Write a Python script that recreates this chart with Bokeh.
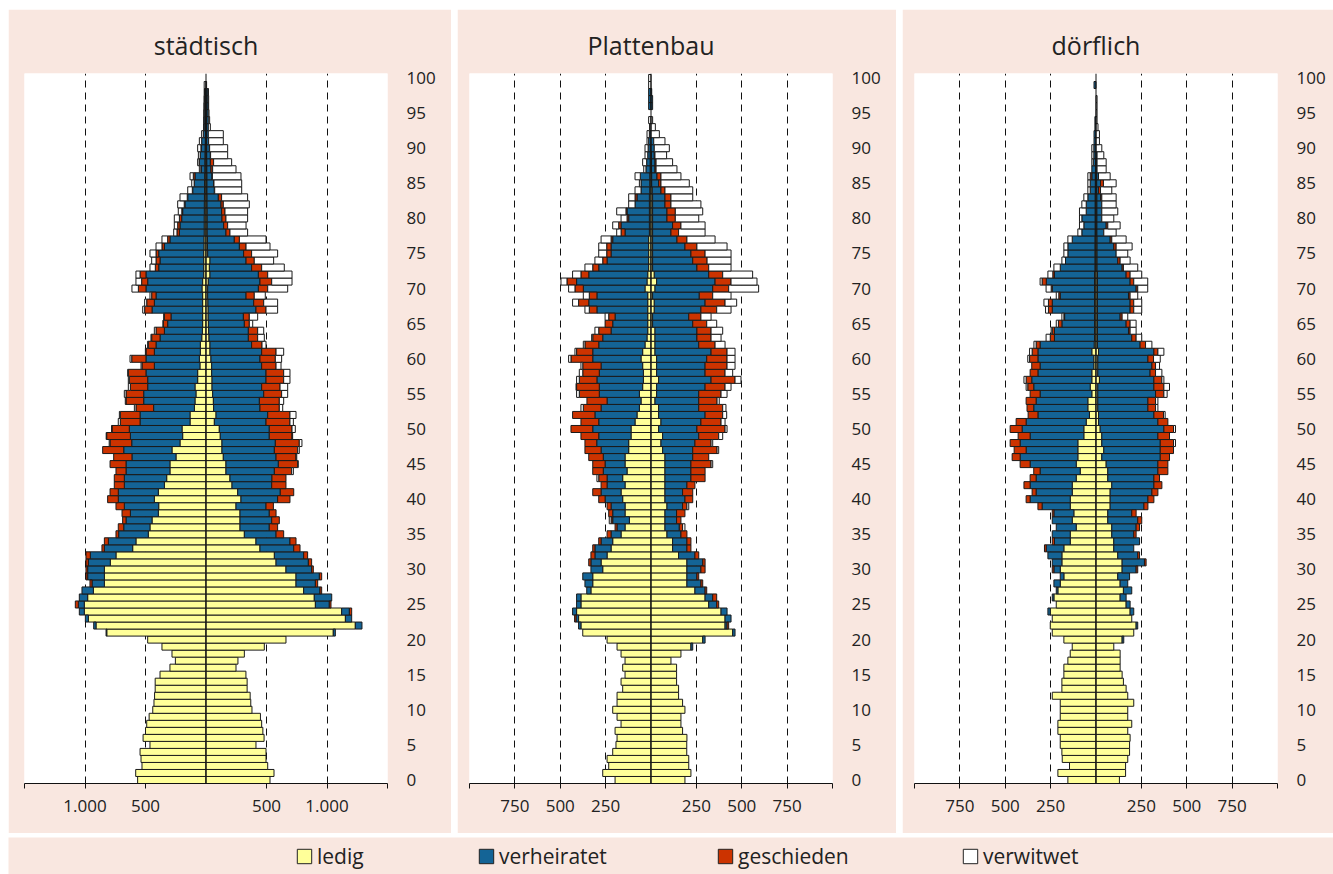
import numpy as np
from bokeh.plotting import figure
from bokeh.models import FixedTicker, Span, Legend, LegendItem, ColumnDataSource, Range1d, Spacer
from bokeh.layouts import row, column
from bokeh.embed import file_html
from bokeh.resources import INLINE

ages = list(range(101))
kategorien = ["ledig", "verheiratet", "geschieden", "verwitwet"]
farben = ["#FFFF99", "#146496", "#CC3300", "#FFFFFF"]

# ---------------- städtisch, links ----------------
stadt_m_ledig = [565, 581, 529, 537, 545, 463, 520, 500, 490, 470,
                 440, 430, 425, 420, 420, 380, 298, 253, 281, 364,
                 482, 820, 909, 972, 1006, 1006, 978, 931, 840, 840,
                 840, 791, 744, 606, 579, 477, 463, 446, 394, 391,
                 427, 394, 344, 325, 298, 298, 248, 281, 215, 193,
                 198, 132, 132, 96, 91, 83, 91, 69, 69, 50,
                 55, 47, 47, 35, 30, 28, 28, 28, 28, 28,
                 33, 28, 19, 19, 19, 19, 17, 17, 15, 15,
                 15, 14, 14, 13, 12, 12, 11, 10, 10, 9,
                 8, 6, 5, 4, 4, 3, 3, 2, 2, 0, 0]
stadt_m_verh = [0] * 20 + [
                 0, 6, 19, 25, 41, 49, 69, 94, 102, 138,
                 138, 181, 212, 234, 228, 245, 217, 215, 231, 284,
                 298, 331, 331, 350, 363, 363, 364, 399, 399, 432,
                 436, 413, 413, 337, 424, 432, 391, 413, 427, 377,
                 441, 380, 366, 345, 314, 289, 261, 418, 399, 385,
                 463, 454, 477, 372, 361, 372, 327, 281, 205, 200,
                 186, 179, 160, 138, 98, 84, 80, 31, 45, 38,
                 33, 30, 17, 12, 12, 12, 11, 11, 10, 0, 0]
stadt_m_gesch = [0] * 20 + [
                 0, 0, 0, 0, 0, 25, 0, 0, 17, 14,
                 14, 20, 36, 20, 33, 22, 45, 28, 69, 69,
                 88, 68, 83, 83, 83, 132, 151, 174, 179, 196,
                 143, 163, 163, 146, 146, 146, 143, 152, 146, 102,
                 118, 69, 64, 69, 69, 36, 55, 61, 63, 36,
                 63, 50, 49, 28, 33, 22, 20, 19, 20, 19,
                 19, 7, 6, 4, 3, 2, 14, 2, 2, 1,
                 1, 0, 0, 0, 0, 0, 0, 0, 0, 0, 0]
stadt_m_verw = [0] * 48 + [7, 4,
                 3, 17, 8, 13, 6, 14, 17, 8, 5, 8,
                 14, 5, 5, 6, 14, 2, 6, 16, 17, 14,
                 53, 47, 34, 44, 36, 50, 49, 47, 27, 28,
                 42, 29, 54, 60, 38, 20, 27, 12, 12, 15,
                 27, 19, 14, 4, 3, 3, 3, 3, 3, 15, 0]

# ---------------- städtisch, rechts ----------------
stadt_w_ledig = [529, 562, 510, 496, 496, 413, 480, 470, 460, 450,
                 380, 370, 365, 340, 340, 330, 248, 264, 317, 482,
                 661, 1052, 1234, 1152, 1121, 904, 895, 807, 744, 744,
                 661, 579, 565, 446, 413, 317, 281, 281, 281, 248,
                 289, 262, 215, 198, 165, 165, 143, 132, 132, 118,
                 110, 69, 83, 63, 61, 55, 50, 50, 47, 47,
                 41, 33, 33, 25, 22, 20, 18, 18, 16, 14,
                 14, 19, 33, 28, 33, 14, 12, 12, 10, 10,
                 10, 10, 9, 9, 8, 8, 8, 7, 7, 6,
                 6, 5, 5, 4, 4, 3, 3, 3, 2, 0, 0]
stadt_w_verh = [0] * 20 + [
                 0, 17, 55, 52, 64, 115, 144, 135, 160, 193,
                 212, 267, 242, 279, 281, 262, 242, 262, 242, 248,
                 303, 352, 328, 347, 400, 433, 436, 433, 441, 405,
                 413, 427, 427, 383, 380, 422, 410, 446, 449, 413,
                 405, 427, 344, 325, 328, 297, 291, 395, 378, 317,
                 419, 427, 400, 349, 298, 297, 264, 222, 155, 136,
                 122, 119, 115, 93, 61, 55, 42, 34, 29, 30,
                 22, 17, 14, 15, 15, 15, 14, 13, 14, 0, 0]
stadt_w_gesch = [0] * 20 + [
                 0, 0, 0, 0, 19, 14, 0, 14, 19, 19,
                 14, 27, 33, 52, 50, 63, 69, 63, 56, 61,
                 102, 111, 118, 116, 143, 160, 165, 193, 198, 188,
                 188, 198, 184, 160, 165, 148, 152, 146, 146, 119,
                 127, 119, 86, 77, 77, 41, 49, 83, 83, 68,
                 77, 97, 77, 83, 68, 66, 55, 42, 33, 33,
                 33, 28, 19, 27, 3, 3, 3, 14, 27, 2,
                 2, 0, 0, 0, 0, 0, 0, 0, 0, 0, 0]
stadt_w_verw = [0] * 44 + [14, 4, 6, 13, 22, 5,
                 27, 28, 50, 28, 36, 50, 63, 52, 52, 41,
                 52, 63, 33, 55, 50, 28, 69, 96, 115, 91,
                 165, 168, 201, 187, 160, 215, 198, 220, 146, 152,
                 179, 187, 215, 215, 223, 229, 236, 193, 149, 141,
                 149, 121, 124, 17, 11, 7, 5, 6, 4, 5, 0]

# ---------------- Plattenbau, links ----------------
platte_m_ledig = [198, 266, 233, 242, 211, 193, 187, 198, 165, 187,
                  211, 187, 187, 156, 165, 143, 156, 143, 165, 187,
                  242, 376, 386, 399, 410, 386, 386, 331, 321, 321,
                  266, 275, 242, 220, 211, 165, 143, 119, 143, 143,
                  156, 165, 143, 156, 132, 143, 143, 123, 123, 110,
                  110, 88, 77, 64, 55, 64, 46, 42, 42, 46,
                  55, 46, 33, 22, 18, 18, 18, 18, 18, 18,
                  33, 22, 18, 13, 13, 13, 13, 13, 9, 9,
                  9, 9, 9, 9, 7, 7, 7, 5, 5, 5,
                  4, 0, 0, 0, 0, 0, 0, 0, 0, 0, 0]
platte_m_verh = [0] * 20 + [
                  0, 0, 13, 14, 22, 24, 24, 23, 43, 55,
                  65, 56, 67, 89, 64, 55, 44, 92, 68, 77,
                  97, 110, 99, 86, 131, 110, 120, 152, 176, 178,
                  211, 200, 232, 211, 187, 221, 239, 256, 243, 229,
                  266, 275, 255, 244, 202, 193, 180, 280, 325, 280,
                  340, 388, 325, 275, 229, 207, 207, 198, 134, 156,
                  114, 123, 79, 68, 48, 48, 52, 23, 19, 13,
                  12, 13, 9, 0, 0, 0, 13, 13, 13, 0, 0]
platte_m_gesch = [0] * 20 + [
                  0, 0, 0, 8, 0, 0, 0, 0, 0, 0,
                  0, 12, 22, 12, 13, 22, 11, 9, 22, 22,
                  35, 46, 33, 46, 58, 68, 80, 89, 65, 98,
                  120, 98, 123, 98, 111, 110, 125, 97, 91, 101,
                  120, 89, 76, 55, 68, 42, 35, 42, 56, 42,
                  46, 53, 43, 33, 24, 24, 24, 9, 22, 13,
                  9, 6, 0, 11, 0, 0, 0, 0, 0, 0,
                  0, 0, 0, 0, 0, 0, 0, 0, 0, 0, 0]
platte_m_verw = [0] * 30 + [
                  0, 0, 0, 0, 0, 0, 0, 10, 0, 0,
                  0, 0, 0, 10, 0, 0, 0, 0, 0, 0,
                  0, 0, 0, 13, 0, 15, 3, 15, 19, 10,
                  13, 9, 9, 6, 21, 0, 20, 24, 33, 33,
                  35, 33, 46, 43, 43, 44, 44, 55, 24, 33,
                  33, 51, 35, 35, 33, 9, 29, 12, 22, 15,
                  17, 9, 13, 8, 13, 0, 0, 0, 0, 13, 13]

# ---------------- Plattenbau, rechts ----------------
platte_w_ledig = [187, 220, 208, 208, 197, 197, 198, 174, 165, 165,
                  187, 174, 152, 152, 141, 141, 141, 110, 165, 220,
                  285, 450, 408, 408, 386, 318, 298, 242, 198, 198,
                  198, 198, 152, 119, 119, 88, 77, 77, 77, 88,
                  77, 77, 77, 77, 77, 77, 77, 64, 55, 64,
                  42, 55, 42, 42, 22, 31, 31, 42, 31, 31,
                  31, 22, 22, 22, 22, 9, 9, 18, 18, 9,
                  22, 31, 18, 9, 9, 9, 9, 9, 9, 9,
                  9, 9, 9, 9, 7, 4, 4, 3, 3, 3,
                  0, 0, 0, 0, 0, 0, 0, 0, 0, 0, 0]
platte_w_verh = [0] * 19 + [10,
                  13, 13, 11, 33, 33, 44, 42, 56, 77, 55,
                  77, 87, 90, 79, 79, 77, 79, 64, 64, 86,
                  110, 97, 121, 143, 143, 143, 153, 166, 187, 199,
                  211, 220, 256, 221, 241, 232, 267, 289, 267, 267,
                  276, 309, 241, 231, 231, 221, 199, 257, 280, 257,
                  318, 322, 300, 244, 221, 211, 178, 134, 101, 110,
                  79, 79, 68, 68, 48, 38, 29, 19, 19, 15,
                  18, 15, 0, 0, 0, 0, 9, 9, 4, 0, 0]
platte_w_gesch = [0] * 20 + [
                  0, 0, 9, 0, 0, 11, 22, 9, 10, 10,
                  23, 13, 21, 22, 22, 33, 18, 24, 46, 24,
                  43, 56, 44, 78, 78, 111, 88, 134, 89, 110,
                  155, 111, 97, 132, 101, 123, 110, 132, 110, 121,
                  112, 88, 90, 78, 78, 77, 67, 87, 110, 74,
                  88, 88, 77, 65, 79, 78, 66, 55, 42, 46,
                  46, 46, 33, 33, 22, 13, 22, 6, 6, 4,
                  0, 0, 0, 0, 0, 0, 0, 0, 0, 0, 0]
platte_w_verw = [0] * 30 + [
                  0, 0, 0, 0, 0, 0, 13, 0, 0, 10,
                  0, 0, 0, 0, 0, 9, 0, 9, 9, 22,
                  11, 22, 22, 18, 12, 33, 33, 33, 42, 44,
                  44, 44, 55, 55, 64, 55, 56, 79, 64, 101,
                  165, 143, 165, 123, 132, 143, 166, 155, 146, 133,
                  129, 151, 165, 120, 153, 156, 110, 115, 91, 64,
                  83, 62, 46, 24, 9, 0, 0, 0, 0, 0, 0]

# ---------------- dörflich, links ----------------
dorf_m_ledig = [155, 210, 146, 186, 188, 197, 197, 210, 210, 197,
                197, 197, 241, 188, 188, 177, 177, 155, 142, 131,
                177, 241, 252, 241, 252, 219, 232, 210, 197, 177,
                197, 188, 188, 177, 142, 142, 109, 131, 122, 142,
                142, 131, 131, 109, 87, 109, 100, 100, 100, 67,
                67, 54, 36, 45, 45, 23, 32, 23, 23, 12,
                12, 23, 10, 8, 8, 8, 8, 8, 8, 8,
                8, 8, 8, 6, 6, 6, 6, 6, 5, 5,
                5, 5, 5, 5, 4, 4, 4, 3, 3, 0,
                0, 0, 0, 0, 0, 0, 0, 0, 0, 0, 0]
dorf_m_verh = [0] * 20 + [
                0, 0, 0, 0, 13, 0, 9, 9, 35, 20,
                35, 53, 77, 97, 87, 99, 110, 110, 110, 155,
                221, 199, 232, 221, 221, 254, 318, 285, 318, 296,
                340, 331, 284, 298, 285, 285, 311, 331, 297, 296,
                308, 297, 298, 221, 221, 180, 165, 233, 233, 189,
                233, 266, 221, 191, 162, 149, 149, 125, 73, 62,
                73, 49, 49, 40, 28, 28, 19, 20, 12, 12,
                12, 11, 11, 6, 6, 0, 0, 0, 0, 11, 0]
dorf_m_gesch = [0] * 30 + [
                9, 0, 0, 10, 12, 0, 0, 0, 9, 23,
                22, 22, 34, 33, 35, 55, 44, 66, 55, 66,
                66, 55, 54, 37, 55, 55, 33, 31, 43, 46,
                46, 32, 22, 23, 12, 19, 4, 21, 21, 8,
                6, 23, 9, 0, 0, 0, 0, 0, 0, 0,
                0, 0, 0, 0, 0, 0, 9, 0, 0, 0,
                0, 0, 0, 0, 0, 0, 0, 0, 0, 0, 0]
dorf_m_verw = [0] * 50 + [
                0, 0, 0, 0, 0, 0, 9, 12, 0, 0,
                10, 14, 12, 23, 6, 12, 11, 16, 25, 14,
                28, 11, 27, 35, 20, 22, 22, 24, 22, 24,
                13, 37, 24, 22, 13, 13, 13, 0, 8, 11,
                11, 0, 0, 0, 0, 0, 0, 0, 0, 0, 0]

# ---------------- dörflich, rechts ----------------
dorf_w_ledig = [129, 163, 163, 175, 185, 185, 188, 175, 197, 175,
                175, 208, 175, 166, 151, 144, 133, 133, 133, 98,
                144, 208, 221, 197, 188, 166, 133, 151, 133, 120,
                144, 144, 120, 98, 98, 87, 87, 65, 65, 78,
                78, 78, 87, 65, 65, 56, 32, 43, 32, 32,
                23, 14, 14, 10, 10, 10, 10, 19, 10, 10,
                10, 14, 8, 8, 8, 8, 8, 8, 8, 8,
                8, 8, 8, 6, 6, 6, 6, 6, 5, 5,
                5, 5, 5, 5, 4, 4, 4, 0, 0, 0,
                0, 0, 0, 0, 0, 0, 0, 0, 0, 0, 0]
dorf_w_verh = [0] * 20 + [
                9, 0, 9, 0, 20, 22, 33, 46, 42, 65,
                77, 123, 110, 110, 142, 121, 134, 165, 132, 186,
                208, 230, 232, 254, 276, 285, 322, 311, 322, 309,
                351, 327, 305, 276, 276, 318, 309, 300, 288, 298,
                276, 305, 235, 189, 171, 158, 125, 180, 180, 171,
                213, 180, 158, 138, 114, 105, 92, 72, 38, 51,
                27, 27, 27, 20, 10, 21, 10, 6, 6, 6,
                0, 0, 0, 0, 0, 0, 0, 0, 0, 0, 0]
dorf_w_gesch = [0] * 30 + [
                9, 9, 10, 0, 0, 13, 19, 22, 24, 22,
                33, 33, 44, 31, 55, 55, 51, 73, 73, 64,
                53, 55, 53, 42, 42, 46, 55, 44, 30, 20,
                31, 22, 30, 24, 9, 22, 11, 20, 20, 9,
                9, 20, 22, 7, 13, 0, 13, 9, 0, 9,
                0, 0, 0, 7, 11, 16, 0, 0, 0, 0,
                0, 0, 0, 0, 0, 0, 0, 0, 0, 0, 0]
dorf_w_verw = [0] * 40 + [
                0, 0, 0, 0, 0, 0, 0, 0, 11, 0,
                11, 0, 9, 13, 13, 18, 31, 11, 35, 22,
                37, 33, 35, 31, 33, 33, 31, 44, 44, 42,
                55, 77, 64, 79, 55, 64, 88, 79, 68, 68,
                66, 88, 79, 79, 62, 70, 64, 50, 50, 37,
                32, 19, 19, 11, 6, 6, 6, 6, 0, 0, 0]

titel = ["städtisch", "Plattenbau", "dörflich"]
ticks_stadt = [-1500, -1000, -500, 500, 1000, 1500]
labels_stadt = ["", "1.000", "500", "500", "1.000", ""]
ticks_klein = [-1000, -750, -500, -250, 250, 500, 750, 1000]
labels_klein = ["", "750", "500", "250", "250", "500", "750", ""]
alter_ticks = list(range(0, 101, 5))

BG = "#F9E7E0"
FONT = "Open Sans"
TXT = "#222222"


def fix(a):
    a = list(a)[:101]
    return a + [0] * (101 - len(a))


def panel(title, links, rechts, xmax, ticks, labels, width, bl, br):
    p = figure(width=width, height=824, x_range=Range1d(-xmax, xmax),
               y_range=Range1d(-0.5, 100.64), output_backend="svg",
               toolbar_location=None, y_axis_location="right",
               min_border_left=bl, min_border_right=br,
               min_border_top=64, min_border_bottom=50, title=title)
    p.background_fill_color = "white"
    p.border_fill_color = BG
    p.outline_line_color = None
    p.title.align = "center"
    p.title.text_font = FONT
    p.title.text_font_size = "25px"
    p.title.text_font_style = "normal"
    p.title.text_color = TXT
    p.title.standoff = 24

    p.xgrid.ticker = FixedTicker(ticks=ticks)
    p.xgrid.grid_line_color = "#111111"
    p.xgrid.grid_line_dash = "7 5"
    p.xgrid.grid_line_width = 1
    p.ygrid.grid_line_color = None

    ax = p.xaxis[0]
    ax.ticker = FixedTicker(ticks=ticks)
    ax.major_label_overrides = {t: l for t, l in zip(ticks, labels)}
    ax.axis_line_color = "#111111"
    ax.major_tick_line_color = "#111111"
    ax.major_tick_out = 5
    ax.major_tick_in = 0
    ax.minor_tick_line_color = None
    ax.major_label_standoff = 11
    ax.major_label_text_font = FONT
    ax.major_label_text_font_size = "17px"
    ax.major_label_text_color = TXT

    ay = p.yaxis[0]
    ay.ticker = FixedTicker(ticks=alter_ticks)
    ay.axis_line_color = None
    ay.major_tick_line_color = None
    ay.major_tick_out = 0
    ay.major_tick_in = 0
    ay.minor_tick_line_color = None
    ay.major_label_standoff = 19
    ay.major_label_text_font = FONT
    ay.major_label_text_font_size = "17px"
    ay.major_label_text_color = TXT

    a = np.array(ages)
    for seite, sign in ((links, -1), (rechts, 1)):
        cum = np.zeros(101)
        for werte, farbe in zip(seite, farben):
            v = np.array(fix(werte), dtype=float)
            m = v > 0
            src = ColumnDataSource(dict(y=a[m], left=sign * cum[m],
                                        right=sign * (cum[m] + v[m])))
            p.hbar(y="y", left="left", right="right", height=1.0, source=src,
                   fill_color=farbe, line_color="#1a1a1a", line_width=1)
            cum = cum + v
    p.add_layout(Span(location=0, dimension="height", line_color="#111111",
                      line_width=1))
    return p


p1 = panel(titel[0],
           [stadt_m_ledig, stadt_m_verh, stadt_m_gesch, stadt_m_verw],
           [stadt_w_ledig, stadt_w_verh, stadt_w_gesch, stadt_w_verw],
           1500, ticks_stadt, labels_stadt, 443, 16, 64)
p2 = panel(titel[1],
           [platte_m_ledig, platte_m_verh, platte_m_gesch, platte_m_verw],
           [platte_w_ledig, platte_w_verh, platte_w_gesch, platte_w_verw],
           1000, ticks_klein, labels_klein, 439, 12, 64)
p3 = panel(titel[2],
           [dorf_m_ledig, dorf_m_verh, dorf_m_gesch, dorf_m_verw],
           [dorf_w_ledig, dorf_w_verh, dorf_w_gesch, dorf_w_verw],
           1000, ticks_klein, labels_klein, 431, 12, 56)

lf = figure(width=1325, height=37, x_range=Range1d(0, 1), y_range=Range1d(0, 1),
            output_backend="svg", toolbar_location=None, min_border=0,
            x_axis_type=None, y_axis_type=None)
lf.background_fill_color = BG
lf.border_fill_color = BG
lf.outline_line_color = None
leg_x = [287, 469, 708, 953]
for name, farbe, lx in zip(kategorien, farben, leg_x):
    # Platzhalter-Glyphe ausserhalb des sichtbaren Bereichs, nur fuer die Legende
    r = lf.rect(x=[-5], y=[-5], width=0.1, height=0.1, fill_color=farbe,
                line_color="#222222")
    leg = Legend(items=[LegendItem(label=name, renderers=[r])], location=(lx, 4),
                 orientation="horizontal", glyph_width=18, glyph_height=18,
                 label_standoff=4, padding=0, margin=0, spacing=0,
                 background_fill_alpha=0, border_line_color=None,
                 label_text_font=FONT, label_text_font_size="21px",
                 label_text_color=TXT)
    lf.add_layout(leg)

inner = column(row(p1, p2, p3, spacing=6), lf, spacing=4)
layout = row(Spacer(width=8), column(Spacer(height=9), inner))
open("out.html", "w").write(file_html(layout, INLINE))
